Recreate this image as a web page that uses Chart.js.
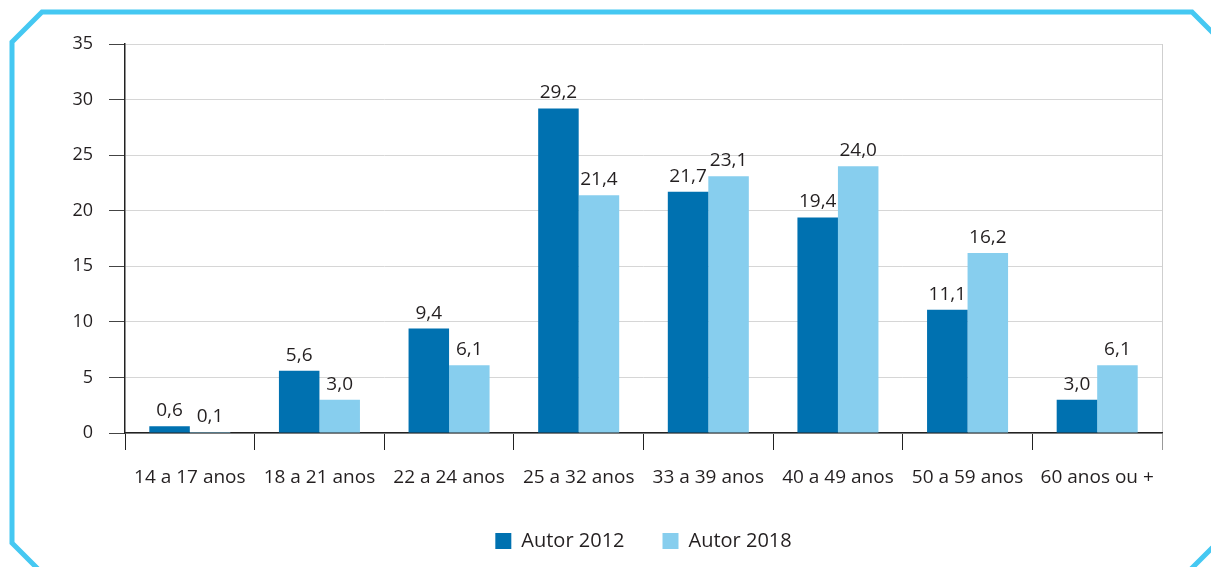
<!DOCTYPE html>
<html>
<head>
<meta charset="utf-8">
<script src="https://cdn.jsdelivr.net/npm/chart.js@4/dist/chart.umd.min.js"></script>
<style>
  html, body { margin: 0; padding: 0; background: #fff; overflow: hidden; }
  canvas { display: block; }
</style>
</head>
<body>
<canvas id="chart" width="1211" height="567"></canvas>
<script>
// faixas etárias
const categorias = ['14 a 17 anos', '18 a 21 anos', '22 a 24 anos', '25 a 32 anos',
                    '33 a 39 anos', '40 a 49 anos', '50 a 59 anos', '60 anos ou +'];
const autor2012 = [0.6, 5.6, 9.4, 29.2, 21.7, 19.4, 11.1, 3.0];
const autor2018 = [0.1, 3.0, 6.1, 21.4, 23.1, 24.0, 16.2, 6.1];
const rotulos = ['Autor 2012', 'Autor 2018'];

const COR_ESCURA = '#0071b0';
const COR_CLARA = '#87ceee';
const TEXTO = '#231f20';
const FONTE = '"Open Sans", "Noto Sans", sans-serif';

// moldura azul com cantos cortados
const molduraPlugin = {
    id: 'moldura',
    beforeDraw(chart) {
        const ctx = chart.ctx;
        ctx.save();
        ctx.strokeStyle = '#45c8f2';
        ctx.lineWidth = 5;
        ctx.beginPath();
        ctx.moveTo(12, 42);
        ctx.lineTo(42, 12);
        ctx.lineTo(1192, 12);
        ctx.lineTo(1230, 50);
        ctx.lineTo(1230, 530);
        ctx.lineTo(1170, 590);
        ctx.lineTo(59, 590);
        ctx.lineTo(12, 543);
        ctx.closePath();
        ctx.stroke();
        ctx.restore();
    }
};

// valores acima das barras
const valoresPlugin = {
    id: 'valores',
    afterDatasetsDraw(chart) {
        const ctx = chart.ctx;
        ctx.save();
        ctx.font = '19px ' + FONTE;
        ctx.fillStyle = TEXTO;
        ctx.textAlign = 'center';
        ctx.textBaseline = 'alphabetic';
        chart.data.datasets.forEach((ds, i) => {
            chart.getDatasetMeta(i).data.forEach((bar, j) => {
                const txt = ds.data[j].toFixed(1).replace('.', ',');
                ctx.fillText(txt, bar.x, bar.y - 10);
            });
        });
        ctx.restore();
    }
};

new Chart(document.getElementById('chart'), {
    type: 'bar',
    data: {
        labels: categorias,
        datasets: [
            { label: rotulos[0], data: autor2012, backgroundColor: COR_ESCURA },
            { label: rotulos[1], data: autor2018, backgroundColor: COR_CLARA }
        ]
    },
    options: {
        responsive: false,
        animation: false,
        devicePixelRatio: 1,
        layout: { padding: { top: 44, left: 0, right: 49, bottom: 6 } },
        datasets: {
            bar: { categoryPercentage: 0.625, barPercentage: 1.0, borderWidth: 0 }
        },
        plugins: {
            tooltip: { enabled: false },
            legend: {
                position: 'bottom',
                fullSize: false,
                labels: {
                    boxWidth: 16,
                    boxHeight: 16,
                    padding: 38,
                    color: TEXTO,
                    font: { family: FONTE, size: 20 }
                }
            }
        },
        scales: {
            x: {
                afterFit(scale) { scale.height = 60; },
                grid: {
                    offset: true,
                    drawOnChartArea: true,
                    color: ctx => ctx.type === 'scale' ? '#cfcfcf' : 'transparent',
                    tickColor: ctx => ctx.type === 'scale' ? '#999' : '#222',
                    tickLength: 17
                },
                border: { color: '#222', width: 1.5 },
                ticks: {
                    color: TEXTO,
                    font: { family: FONTE, size: 19 },
                    padding: 16,
                    maxRotation: 0,
                    autoSkip: false
                }
            },
            y: {
                min: 0,
                max: 35,
                afterFit(scale) { scale.width = 125; },
                grid: {
                    color: '#d6d6d6',
                    tickColor: '#444',
                    tickLength: 16
                },
                border: { color: '#222', width: 1.5 },
                ticks: {
                    stepSize: 5,
                    color: TEXTO,
                    font: { family: FONTE, size: 18 },
                    padding: 16
                }
            }
        }
    },
    plugins: [molduraPlugin, valoresPlugin]
});
</script>
</body>
</html>
